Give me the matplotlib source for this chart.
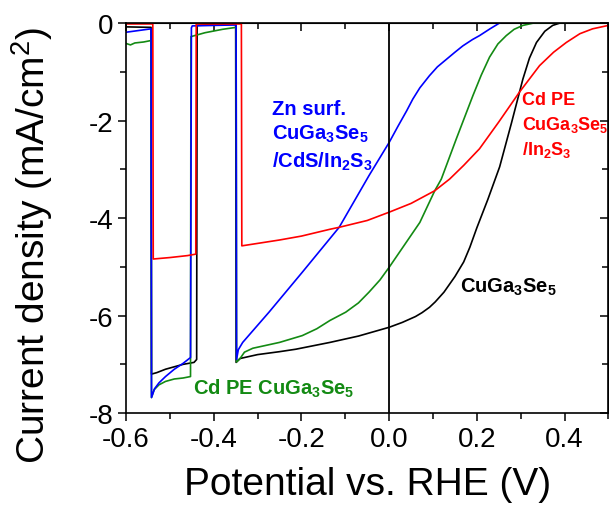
import numpy as np
import matplotlib
matplotlib.use('Agg')
import matplotlib.pyplot as plt
from matplotlib.ticker import MultipleLocator

plt.rcParams['font.family'] = ['Liberation Sans', 'DejaVu Sans']
plt.rcParams['mathtext.fontset'] = 'custom'
plt.rcParams['mathtext.rm'] = 'Liberation Sans'
plt.rcParams['mathtext.bf'] = 'Liberation Sans:bold'
plt.rcParams['axes.unicode_minus'] = False

# chopped-light LSV curves, potential (V vs RHE) and current density (mA/cm2)
black_v = [-0.6, -0.543, -0.542, -0.53, -0.51, -0.49, -0.47, -0.445, -0.439, -0.438, -0.4, -0.35,
           -0.349, -0.34, -0.3, -0.25, -0.213, -0.135, -0.07, 0.0, 0.03, 0.06, 0.075, 0.092, 0.105,
           0.125, 0.15, 0.17, 0.184, 0.2, 0.225, 0.252, 0.279, 0.305, 0.32, 0.336, 0.355, 0.373,
           0.39, 0.5]
black_j = [-0.08, -0.09, -7.2, -7.17, -7.1, -7.05, -7.0, -6.96, -6.9, -0.05, -0.03, -0.03,
           -6.96, -6.88, -6.8, -6.74, -6.69, -6.55, -6.42, -6.24, -6.14, -6.02, -5.94, -5.83, -5.72,
           -5.52, -5.2, -4.9, -4.6, -4.2, -3.62, -2.95, -2.05, -1.15, -0.72, -0.40, -0.17, -0.05,
           0.0, 0.03]

blue_v = [-0.6, -0.543, -0.542, -0.535, -0.525, -0.51, -0.49, -0.47, -0.453, -0.451, -0.449, -0.4,
          -0.349, -0.348, -0.344, -0.334, -0.274, -0.198, -0.114, -0.046, 0.0, 0.02, 0.04, 0.054,
          0.07, 0.092, 0.11, 0.13, 0.15, 0.168, 0.19, 0.206, 0.23, 0.252, 0.27]
blue_j = [-0.19, -0.12, -7.68, -7.5, -7.38, -7.25, -7.1, -6.98, -6.86, -0.1, -0.06, -0.05,
          -0.04, -6.9, -6.7, -6.55, -5.93, -5.11, -4.19, -3.13, -2.45, -2.12, -1.8, -1.56,
          -1.33, -1.08, -0.9, -0.75, -0.6, -0.47, -0.34, -0.26, -0.12, 0.0, 0.1]

green_v = [-0.6, -0.59, -0.58, -0.56, -0.543, -0.542, -0.536, -0.525, -0.51, -0.49, -0.47, -0.453,
           -0.452, -0.42, -0.38, -0.349, -0.348, -0.34, -0.33, -0.311, -0.25, -0.198, -0.165, -0.135,
           -0.099, -0.07, -0.046, -0.021, 0.0, 0.035, 0.07, 0.104, 0.119, 0.153, 0.191, 0.21, 0.229,
           0.248, 0.267, 0.285, 0.305, 0.33, 0.5]
green_j = [-0.42, -0.45, -0.41, -0.39, -0.36, -7.68, -7.52, -7.42, -7.35, -7.3, -7.28, -7.25,
           -0.28, -0.2, -0.13, -0.09, -6.95, -6.88, -6.75, -6.67, -6.55, -6.41, -6.27, -6.1,
           -5.93, -5.74, -5.52, -5.27, -5.01, -4.55, -4.09, -3.44, -3.2, -2.38, -1.49, -1.07, -0.70,
           -0.43, -0.26, -0.13, -0.05, 0.0, 0.03]

red_v = [-0.6, -0.539, -0.538, -0.5, -0.46, -0.441, -0.44, -0.337, -0.336, -0.3, -0.25, -0.2,
         -0.135, -0.114, -0.05, 0.0, 0.05, 0.104, 0.138, 0.17, 0.206, 0.25, 0.297, 0.343, 0.375,
         0.404, 0.435, 0.464, 0.5]
red_j = [-0.02, -0.02, -4.84, -4.81, -4.77, -4.74, -0.02, -0.02, -4.57, -4.52, -4.45, -4.37,
         -4.23, -4.19, -4.05, -3.88, -3.7, -3.44, -3.2, -2.92, -2.58, -2.03, -1.42, -0.875, -0.6,
         -0.40, -0.22, -0.12, -0.05]

x_ticks = [-0.6, -0.4, -0.2, 0.0, 0.2, 0.4]
y_ticks = [0, -2, -4, -6, -8]

fig = plt.figure(figsize=(6.09, 5.10), dpi=100)
ax = fig.add_axes([0.207, 0.188, 0.792, 0.765])

ax.plot(black_v, black_j, color='black', lw=1.2)
ax.plot(green_v, green_j, color='#138a13', lw=1.2)
ax.plot(blue_v, blue_j, color='#0000ff', lw=1.2)
ax.plot(red_v, red_j, color='#ff0000', lw=1.2)
ax.axvline(0, color='black', lw=1.3)

ax.set_xlim(-0.6, 0.5)
ax.set_ylim(-8, 0)
ax.set_xticks(x_ticks)
ax.set_xticklabels(['%.1f' % v for v in x_ticks])
ax.set_yticks(y_ticks)
ax.set_yticklabels(['%d' % v for v in y_ticks])
ax.xaxis.set_minor_locator(MultipleLocator(0.1))
ax.yaxis.set_minor_locator(MultipleLocator(1))
ax.tick_params(which='both', direction='out', top=False, right=False, labelsize=20, width=1.1, pad=3)
ax.tick_params(which='major', length=6)
ax.tick_params(which='minor', length=4)
# inward ticks mirrored on the top and right
axt = ax.secondary_xaxis('top')
axt.set_xticks(x_ticks)
axt.xaxis.set_minor_locator(MultipleLocator(0.1))
axt.tick_params(which='both', direction='in', labeltop=False, width=1.1)
axt.tick_params(which='major', length=6)
axt.tick_params(which='minor', length=4)
axr = ax.secondary_yaxis('right')
axr.set_yticks(y_ticks)
axr.yaxis.set_minor_locator(MultipleLocator(1))
axr.tick_params(which='both', direction='in', labelright=False, width=1.1)
axr.tick_params(which='major', length=6)
axr.tick_params(which='minor', length=4)
for s in ax.spines.values():
    s.set_linewidth(1.2)

ax.set_xlabel('Potential vs. RHE (V)', fontsize=28, labelpad=10)
ax.set_ylabel('Current density (mA/cm$^2$)', fontsize=28)
ax.yaxis.set_label_coords(-0.148, 0.433)

lab = dict(fontsize=14.5, fontweight='bold')
ax.text(-0.267, -1.87, 'Zn surf.', color='#0000ff', **lab)
ax.text(-0.267, -2.38, r'CuGa$_\mathbf{3}$Se$_\mathbf{5}$', color='#0000ff', **lab)
ax.text(-0.267, -2.95, r'/CdS/In$_\mathbf{2}$S$_\mathbf{3}$', color='#0000ff', **lab)
red_lab = dict(fontsize=13, fontweight='bold')
ax.text(0.302, -1.66, 'Cd PE', color='#ff0000', **red_lab)
ax.text(0.302, -2.17, r'CuGa$_\mathbf{3}$Se$_\mathbf{5}$', color='#ff0000', **red_lab)
ax.text(0.302, -2.69, r'/In$_\mathbf{2}$S$_\mathbf{3}$', color='#ff0000', **red_lab)
ax.text(0.161, -5.52, r'CuGa$_\mathbf{3}$Se$_\mathbf{5}$', color='black', **lab)
ax.text(-0.447, -7.61, r'Cd PE CuGa$_\mathbf{3}$Se$_\mathbf{5}$', color='#138a13', **lab)

fig.savefig('out.png', dpi=100)
